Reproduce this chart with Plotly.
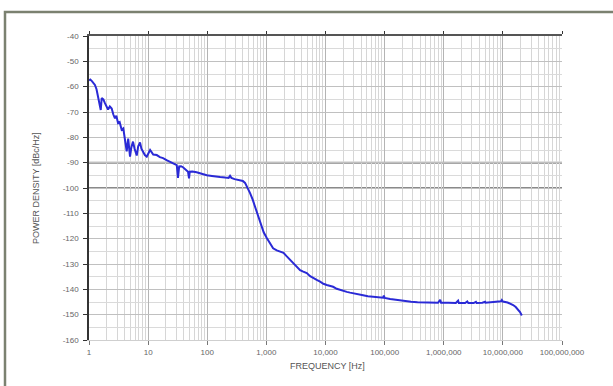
import plotly.graph_objects as go

# Frequency (Hz) and power density (dBc/Hz)
freq = [
    1.0, 1.05, 1.12, 1.2, 1.26, 1.34, 1.42, 1.5, 1.58, 1.64,
    1.75, 1.86, 1.98, 2.1, 2.25, 2.42, 2.58, 2.75, 2.9, 3.1,
    3.3, 3.57, 3.8, 4.06, 4.2, 4.34, 4.6, 4.94, 5.2, 5.55,
    5.9, 6.42, 6.8, 7.29, 7.7, 8.2, 8.8, 9.47, 10.1, 10.8,
    12.2, 14, 15.8, 17.9, 20.5, 23.5, 27, 30.5, 31.3, 32,
    33.5, 36, 38.9, 43, 46.5, 47.3, 48.3, 49.2, 50.5, 56,
    66, 80, 98, 120, 140, 165, 200, 230, 243, 256,
    290, 330, 359, 400, 436, 480, 530, 585, 644, 710,
    782, 900, 1016, 1150, 1300, 1500, 1706, 1950, 2215, 2500,
    2830, 3250, 3717, 4200, 4830, 5500, 6170, 7100, 8110, 9200,
    10520, 12000, 13450, 15500, 17660, 20000, 22930, 26000, 29300, 36000,
    43300, 52000, 63900, 78000, 94400, 97000, 100000, 124000, 160000, 210000,
    280000, 360000, 480000, 640000, 800000, 870000, 900000, 1.2e6, 1.6e6, 1.75e6,
    1.8e6, 2.3e6, 2.5e6, 2.6e6, 3.2e6, 3.5e6, 3.6e6, 4.5e6, 5e6, 5.1e6,
    6.2e6, 7e6, 8.2e6, 9.3e6, 9.6e6, 1.0e7, 1.2e7, 1.49e7, 1.65e7, 1.82e7,
    1.95e7, 2.09e7,
]
density = [
    -57.5, -57.2, -57.8, -58.5, -59.3, -61.0, -64.0, -67.5, -69.2, -64.5,
    -65.0, -66.5, -68.0, -69.0, -67.8, -68.6, -71.0, -72.5, -71.5, -74.4,
    -74.0, -77.0, -76.5, -81.7, -83.5, -85.5, -80.5, -87.6, -84.0, -81.7,
    -84.5, -87.2, -83.5, -82.0, -84.5, -85.5, -87.0, -87.6, -86.0, -85.0,
    -86.8, -87.0, -87.8, -88.2, -89.0, -89.6, -90.3, -91.0, -93.5, -96.0,
    -91.5, -91.4, -91.8, -92.6, -93.4, -93.6, -95.0, -96.2, -93.6, -93.5,
    -93.8, -94.4, -95.0, -95.3, -95.6, -95.7, -95.9, -96.0, -95.2, -96.0,
    -96.5, -96.8, -96.9, -97.2, -98.0, -99.8, -102.0, -104.5, -107.4, -110.8,
    -114.0, -117.5, -119.7, -122.0, -123.8, -124.6, -125.0, -125.6, -127.0, -128.3,
    -129.7, -131.0, -132.4, -133.0, -133.6, -134.8, -135.6, -136.3, -137.0, -137.8,
    -138.3, -138.6, -139.0, -139.8, -140.3, -140.5, -141.0, -141.3, -141.6, -142.0,
    -142.3, -142.7, -143.0, -143.2, -143.3, -142.5, -143.4, -143.8, -144.2, -144.6,
    -144.9, -145.1, -145.2, -145.3, -145.3, -144.1, -145.3, -145.3, -145.4, -144.5,
    -145.4, -145.4, -144.8, -145.4, -145.4, -144.9, -145.4, -145.3, -144.9, -145.3,
    -145.2, -145.1, -144.9, -144.7, -144.2, -144.8, -145.2, -146.2, -147.0, -148.0,
    -149.0, -150.3,
]
assert len(freq) == len(density)

x_tickvals = [1, 10, 100, 1e3, 1e4, 1e5, 1e6, 1e7, 1e8]
x_ticktext = ["1", "10", "100", "1,000", "10,000", "100,000",
              "1,000,000", "10,000,000", "100,000,000"]
y_tickvals = list(range(-160, -39, 10))
y_ticktext = [str(v) for v in y_tickvals]
highlight_db = [-90, -100]

W, H = 613, 386
L, R, T, B = 89, 562, 36, 340
pw, ph = R - L, B - T

fig = go.Figure()
fig.add_trace(go.Scatter(x=freq, y=density, mode="lines",
                         line=dict(color="#2a2ad6", width=2),
                         hoverinfo="skip", showlegend=False))
fig.add_trace(go.Scatter(x=[1, 1e8], y=[-40, -40], xaxis="x2", mode="lines",
                         line=dict(width=0), hoverinfo="skip", showlegend=False))

tickfont = dict(family="Liberation Sans, Arial, sans-serif", size=8, color="#666")

shapes = []
for v in highlight_db:
    shapes.append(dict(type="line", xref="paper", yref="y", x0=0, x1=1, y0=v, y1=v,
                       line=dict(color="#8a8a8a", width=2), layer="below"))
# outer frame
shapes.append(dict(type="rect", xref="paper", yref="paper",
                   x0=(5 - L) / pw, x1=1.4, y0=-0.4, y1=(B - 12) / ph,
                   line=dict(color="#7b8170", width=2.5)))

fig.update_layout(
    width=W, height=H,
    margin=dict(l=L, r=W - R, t=T, b=H - B),
    paper_bgcolor="white", plot_bgcolor="white",
    font=dict(family="Liberation Sans, Arial, sans-serif", color="#555"),
    xaxis=dict(type="log", range=[0, 8], tickvals=x_tickvals, ticktext=x_ticktext,
               tickfont=tickfont, ticks="outside", ticklen=4, tickcolor="#777",
               showgrid=True, gridcolor="#b4b4b4", gridwidth=1,
               minor=dict(showgrid=True, dtick="D1", gridcolor="#d6d6d6", gridwidth=1),
               showline=True, linecolor="#cfcfcf", zeroline=False),
    xaxis2=dict(type="log", range=[0, 8], overlaying="x", side="top",
                tickvals=x_tickvals, showticklabels=False, ticks="outside",
                ticklen=3, tickcolor="#333", showgrid=False, showline=True,
                linecolor="#555", linewidth=1.5),
    yaxis=dict(range=[-160, -40], tickvals=y_tickvals, ticktext=y_ticktext,
               tickfont=tickfont, ticks="outside", ticklen=4, tickcolor="#333",
               ticklabelstandoff=3,
               showgrid=True, gridcolor="#c0c0c0", gridwidth=1,
               minor=dict(showgrid=True, dtick=5, gridcolor="#dadada", gridwidth=1),
               showline=True, linecolor="#333", linewidth=1.5, zeroline=False),
    shapes=shapes,
    annotations=[
        dict(text="POWER DENSITY [dBc/Hz]", xref="paper", yref="paper",
             x=(36 - L) / pw, y=0.5, textangle=-90, showarrow=False,
             font=dict(size=9, color="#555"), xanchor="center", yanchor="middle"),
        dict(text="FREQUENCY [Hz]", xref="paper", yref="paper",
             x=(327 - L) / pw, y=(B - 366) / ph, showarrow=False,
             font=dict(size=9, color="#555"), xanchor="center", yanchor="middle"),
    ],
)

fig.write_html("out.html",
               config={"displayModeBar": False},
               post_script="document.body.style.margin='0';"
                           "document.body.style.overflow='hidden';")
